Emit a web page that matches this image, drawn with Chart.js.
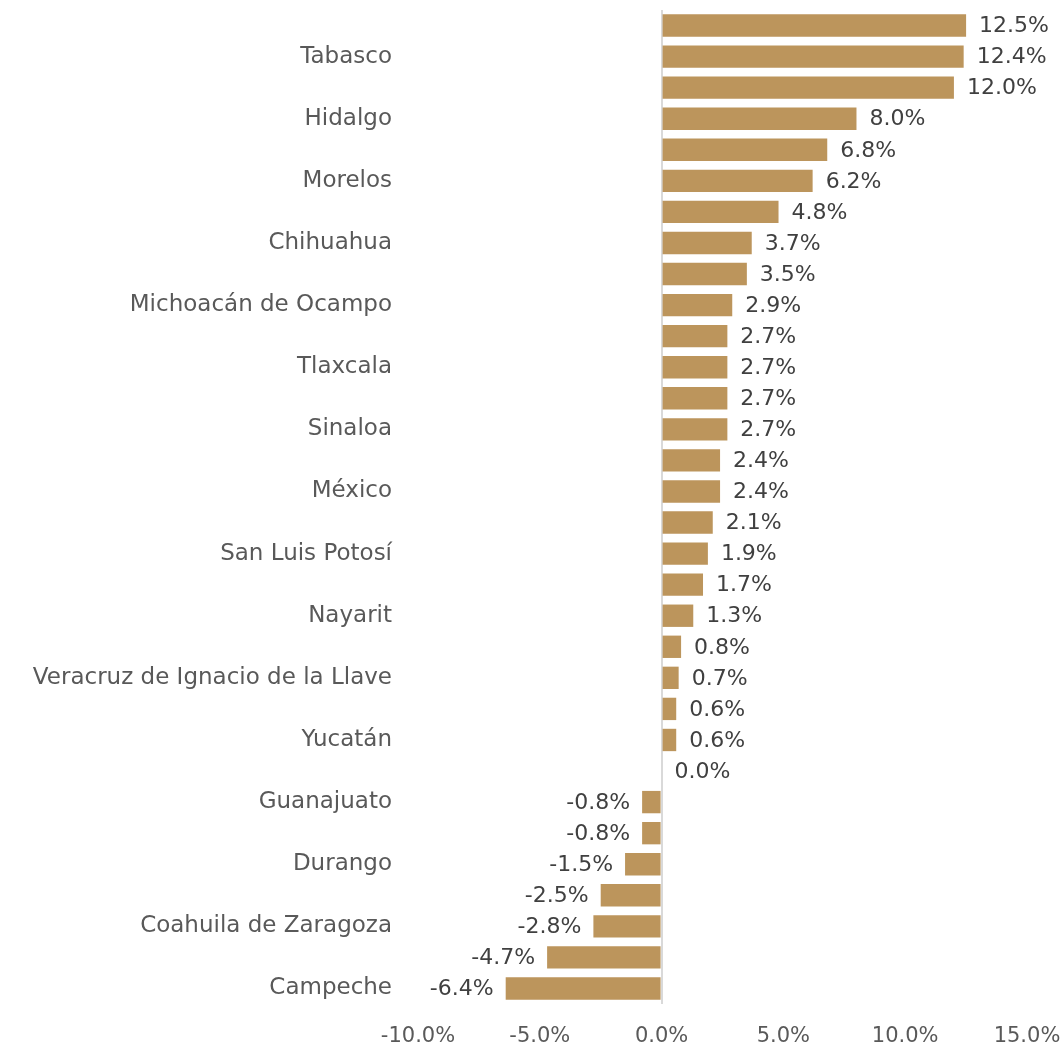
<!DOCTYPE html>
<html>
<head>
<meta charset="utf-8">
<script src="https://cdn.jsdelivr.net/npm/chart.js@4"></script>
<style>
  html, body { margin: 0; padding: 0; background: #fff; }
  #wrap { width: 1064px; height: 1050px; position: relative; }
</style>
</head>
<body>
<div id="wrap"><canvas id="barChart"></canvas></div>
<script>
// states, top to bottom (only every other one gets a visible label)
const states = [
  'Baja California Sur', 'Tabasco', 'Quintana Roo', 'Hidalgo', 'Oaxaca', 'Morelos',
  'Chiapas', 'Chihuahua', 'Guerrero', 'Michoacán de Ocampo', 'Colima', 'Tlaxcala',
  'Jalisco', 'Sinaloa', 'Puebla', 'México', 'Querétaro', 'San Luis Potosí',
  'Aguascalientes', 'Nayarit', 'Ciudad de México', 'Veracruz de Ignacio de la Llave',
  'Nuevo León', 'Yucatán', 'Sonora', 'Guanajuato', 'Zacatecas', 'Durango',
  'Baja California', 'Coahuila de Zaragoza', 'Tamaulipas', 'Campeche'
];
const growth = [
  12.5, 12.4, 12.0, 8.0, 6.8, 6.2, 4.8, 3.7, 3.5, 2.9, 2.7, 2.7, 2.7, 2.7, 2.4, 2.4,
  2.1, 1.9, 1.7, 1.3, 0.8, 0.7, 0.6, 0.6, 0.0, -0.8, -0.8, -1.5, -2.5, -2.8, -4.7, -6.4
];
const xTicks = [-10, -5, 0, 5, 10, 15];

const FONT = '"DejaVu Sans", sans-serif';

// draws the value next to the end of each bar
const valueLabels = {
  id: 'valueLabels',
  afterDatasetsDraw(chart) {
    const ctx = chart.ctx;
    const meta = chart.getDatasetMeta(0);
    ctx.save();
    ctx.font = '22px ' + FONT;
    ctx.fillStyle = '#404040';
    ctx.textBaseline = 'middle';
    meta.data.forEach((bar, i) => {
      const v = growth[i];
      const txt = v.toFixed(1) + '%';
      if (v < 0) {
        ctx.textAlign = 'right';
        ctx.fillText(txt, bar.x - 12, bar.y + 1);
      } else {
        ctx.textAlign = 'left';
        ctx.fillText(txt, bar.x + 13, bar.y + 1);
      }
    });
    ctx.restore();
  }
};

const ctx = document.getElementById('barChart').getContext('2d');
const barChart = new Chart(ctx, {
  type: 'bar',
  data: {
    labels: states,
    datasets: [{
      data: growth,
      backgroundColor: '#BC955C',
      borderWidth: 0,
      categoryPercentage: 1,
      barPercentage: 0.72
    }]
  },
  options: {
    indexAxis: 'y',
    responsive: true,
    maintainAspectRatio: false,
    animation: false,
    layout: { padding: { top: 10, right: 37, bottom: 0, left: 0 } },
    plugins: {
      legend: { display: false },
      tooltip: { enabled: false }
    },
    scales: {
      x: {
        min: -10,
        max: 15,
        afterBuildTicks: (axis) => { axis.ticks = xTicks.map(v => ({ value: v })); },
        afterFit: (scale) => {
          scale.height = 46;
          scale.paddingLeft = 0;
          scale.paddingRight = 0;
        },
        border: { display: false },
        grid: {
          drawTicks: false,
          lineWidth: 2,
          color: (c) => (c.tick && c.tick.value === 0 ? '#d9d9d9' : 'rgba(0,0,0,0)')
        },
        ticks: {
          padding: 20,
          color: '#595959',
          font: { family: FONT, size: 21 },
          callback: (v) => v.toFixed(1) + '%'
        }
      },
      y: {
        afterFit: (scale) => {
          scale.width = 418;
          scale.paddingTop = 0;
          scale.paddingBottom = 0;
        },
        border: { display: false },
        grid: { display: false, drawTicks: false },
        ticks: {
          autoSkip: false,
          padding: 26,
          color: '#595959',
          font: { family: FONT, size: 23 },
          callback: (v, i) => (i % 2 === 1 ? states[i] : '')
        }
      }
    }
  },
  plugins: [valueLabels]
});
</script>
</body>
</html>
